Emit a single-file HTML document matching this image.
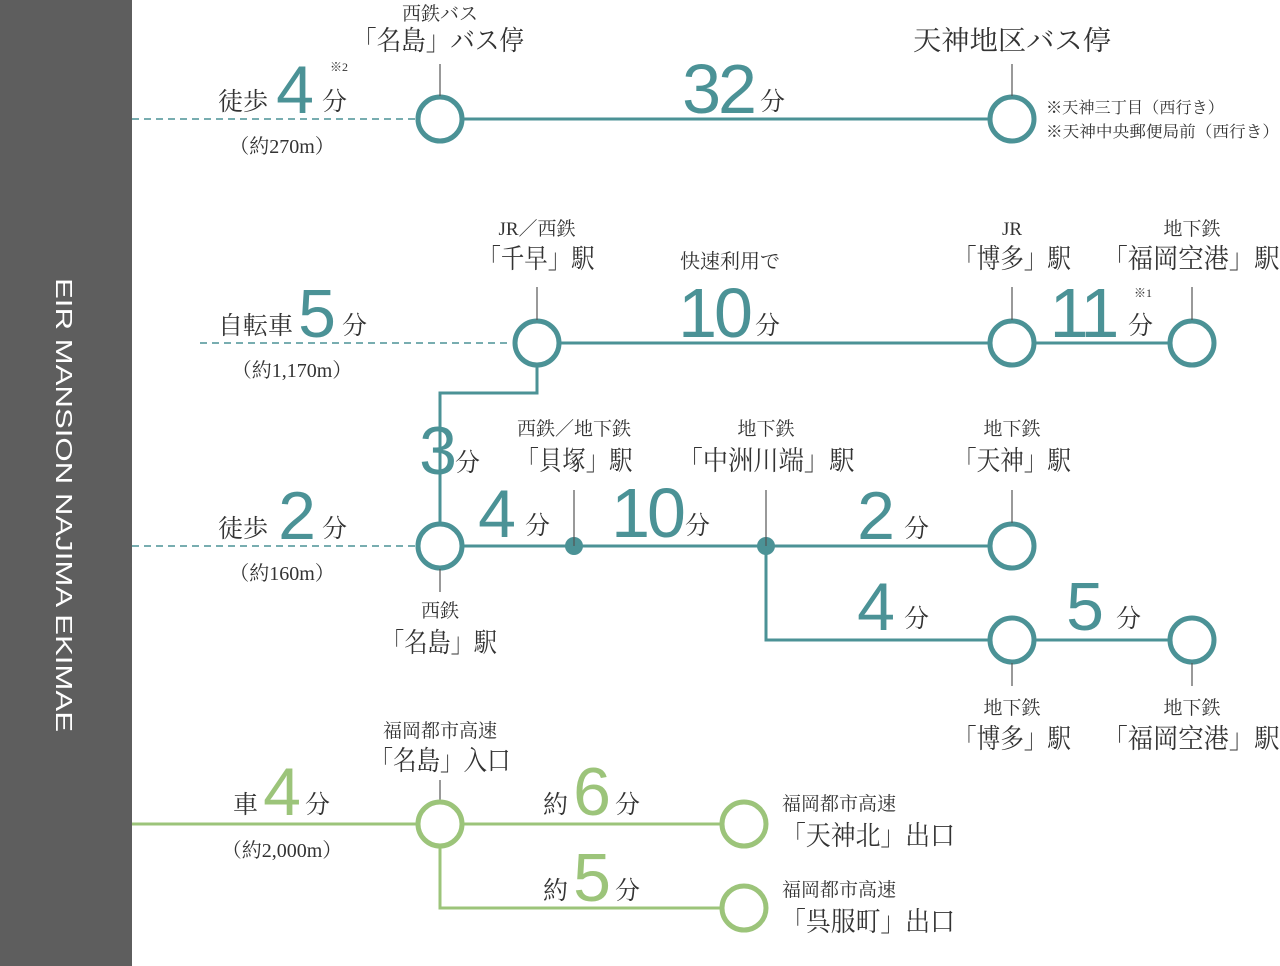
<!DOCTYPE html>
<html><head><meta charset="utf-8"><style>
html,body{margin:0;padding:0;background:#fff}
svg{display:block}
.j{font-family:"Liberation Serif","Noto Serif CJK SC",serif;fill:#333}
.n{font-family:"Liberation Sans",sans-serif;font-weight:normal}
.t{fill:#4b9296}.g{fill:#9cc47a}
</style></head><body>
<svg width="1280" height="966" viewBox="0 0 1280 966" xmlns="http://www.w3.org/2000/svg">
<rect x="0" y="0" width="132" height="966" fill="#5e5e5e"/>
<text transform="translate(56,278) rotate(90)" font-family="Liberation Sans,sans-serif" font-size="23" fill="#fff" textLength="454" lengthAdjust="spacingAndGlyphs">EIR MANSION NAJIMA EKIMAE</text>

<g stroke="#4b9296" stroke-width="3" fill="none">
<line x1="132" y1="119" x2="416" y2="119" stroke-width="1.5" stroke-dasharray="7,5"/>
<line x1="462" y1="119" x2="988" y2="119"/>
<line x1="200" y1="343" x2="512" y2="343" stroke-width="1.5" stroke-dasharray="7,5"/>
<line x1="559" y1="343" x2="988" y2="343"/>
<line x1="1034" y1="343" x2="1168" y2="343"/>
<polyline points="537,365 537,393 440,393 440,522"/>
<line x1="132" y1="546" x2="416" y2="546" stroke-width="1.5" stroke-dasharray="7,5"/>
<line x1="462" y1="546" x2="988" y2="546"/>
<polyline points="766,546 766,640 988,640"/>
<line x1="1034" y1="640" x2="1168" y2="640"/>
</g>
<g stroke="#4b9296" stroke-width="5" fill="#fff">
<circle cx="440" cy="119" r="22"/><circle cx="1012" cy="119" r="22"/>
<circle cx="537" cy="343" r="22"/><circle cx="1012" cy="343" r="22"/><circle cx="1192" cy="343" r="22"/>
<circle cx="440" cy="546" r="22"/><circle cx="1012" cy="546" r="22"/>
<circle cx="1012" cy="640" r="22"/><circle cx="1192" cy="640" r="22"/>
</g>
<circle cx="574" cy="546" r="9" fill="#4b9296"/><circle cx="766" cy="546" r="9" fill="#4b9296"/>
<g stroke="#555" stroke-width="1.2">
<line x1="440" y1="64" x2="440" y2="96"/><line x1="1012" y1="64" x2="1012" y2="96"/>
<line x1="537" y1="287" x2="537" y2="320"/><line x1="1012" y1="287" x2="1012" y2="320"/><line x1="1192" y1="287" x2="1192" y2="320"/>
<line x1="574" y1="490" x2="574" y2="546"/><line x1="766" y1="490" x2="766" y2="546"/><line x1="1012" y1="490" x2="1012" y2="523"/>
<line x1="440" y1="569" x2="440" y2="592"/>
<line x1="1012" y1="663" x2="1012" y2="686"/><line x1="1192" y1="663" x2="1192" y2="686"/>
<line x1="440" y1="780" x2="440" y2="801"/>
</g>
<g stroke="#9cc47a" stroke-width="3" fill="none">
<line x1="132" y1="824" x2="416" y2="824"/>
<line x1="462" y1="824" x2="720" y2="824"/>
<polyline points="440,846 440,908 720,908"/>
</g>
<g stroke="#9cc47a" stroke-width="5" fill="#fff">
<circle cx="440" cy="824" r="22"/><circle cx="744" cy="824" r="22"/><circle cx="744" cy="908" r="22"/>
</g>

<g class="j" text-anchor="middle">
<text x="440" y="20" font-size="19">西鉄バス</text>
<text x="438" y="50" font-size="27" textLength="172" lengthAdjust="spacingAndGlyphs">「名島」バス停</text>
<text x="1012" y="50" font-size="27" textLength="198" lengthAdjust="spacingAndGlyphs">天神地区バス停</text>
<text x="537" y="235" font-size="19">JR／西鉄</text>
<text x="536" y="268" font-size="27" textLength="117" lengthAdjust="spacingAndGlyphs">「千早」駅</text>
<text x="730" y="268" font-size="20">快速利用で</text>
<text x="1012" y="235" font-size="19">JR</text>
<text x="1012" y="268" font-size="27" textLength="118" lengthAdjust="spacingAndGlyphs">「博多」駅</text>
<text x="1192" y="235" font-size="19">地下鉄</text>
<text x="1191" y="268" font-size="27" textLength="177" lengthAdjust="spacingAndGlyphs">「福岡空港」駅</text>
<text x="574" y="435" font-size="19">西鉄／地下鉄</text>
<text x="574" y="470" font-size="27" textLength="117" lengthAdjust="spacingAndGlyphs">「貝塚」駅</text>
<text x="766" y="435" font-size="19">地下鉄</text>
<text x="766" y="470" font-size="27" textLength="177" lengthAdjust="spacingAndGlyphs">「中洲川端」駅</text>
<text x="1012" y="435" font-size="19">地下鉄</text>
<text x="1012" y="470" font-size="27" textLength="118" lengthAdjust="spacingAndGlyphs">「天神」駅</text>
<text x="440" y="617" font-size="19">西鉄</text>
<text x="439" y="652" font-size="27" textLength="116" lengthAdjust="spacingAndGlyphs">「名島」駅</text>
<text x="1012" y="714" font-size="19">地下鉄</text>
<text x="1012" y="748" font-size="27" textLength="118" lengthAdjust="spacingAndGlyphs">「博多」駅</text>
<text x="1192" y="714" font-size="19">地下鉄</text>
<text x="1191" y="748" font-size="27" textLength="177" lengthAdjust="spacingAndGlyphs">「福岡空港」駅</text>
<text x="440" y="737" font-size="19">福岡都市高速</text>
<text x="440" y="770" font-size="27" textLength="141" lengthAdjust="spacingAndGlyphs">「名島」入口</text>
<text x="282" y="153" font-size="20">（約270m）</text>
<text x="292" y="377" font-size="20">（約1,170m）</text>
<text x="282" y="580" font-size="20">（約160m）</text>
<text x="282" y="857" font-size="20">（約2,000m）</text>
</g>
<g class="j">
<text x="1046" y="113" font-size="16" textLength="178" lengthAdjust="spacingAndGlyphs">※天神三丁目（西行き）</text>
<text x="1046" y="137" font-size="16" textLength="233" lengthAdjust="spacingAndGlyphs">※天神中央郵便局前（西行き）</text>
<text x="782" y="810" font-size="19">福岡都市高速</text>
<text x="781" y="845" font-size="27" textLength="174" lengthAdjust="spacingAndGlyphs">「天神北」出口</text>
<text x="782" y="896" font-size="19">福岡都市高速</text>
<text x="781" y="931" font-size="27" textLength="174" lengthAdjust="spacingAndGlyphs">「呉服町」出口</text>
<text x="218" y="110" font-size="25">徒歩</text><text x="322" y="110" font-size="25">分</text>
<text x="330" y="71" font-size="12">※2</text>
<text x="760" y="110" font-size="25">分</text>
<text x="218" y="334" font-size="25">自転車</text><text x="342" y="334" font-size="25">分</text>
<text x="755" y="334" font-size="25">分</text>
<text x="1128" y="334" font-size="25">分</text><text x="1134" y="297" font-size="12">※1</text>
<text x="455" y="471" font-size="25">分</text>
<text x="218" y="537" font-size="25">徒歩</text><text x="322" y="537" font-size="25">分</text>
<text x="525" y="534" font-size="25">分</text>
<text x="685" y="534" font-size="25">分</text>
<text x="904" y="537" font-size="25">分</text>
<text x="904" y="627" font-size="25">分</text>
<text x="1116" y="627" font-size="25">分</text>
<text x="233" y="813" font-size="25">車</text><text x="305" y="813" font-size="25">分</text>
<text x="543" y="813" font-size="25">約</text><text x="615" y="813" font-size="25">分</text>
<text x="543" y="899" font-size="25">約</text><text x="615" y="899" font-size="25">分</text>
</g>
<g class="n t" text-anchor="middle">
<text x="295" y="113" font-size="68">4</text>
<text x="718" y="113" font-size="70" letter-spacing="-3">32</text>
<text x="317" y="337" font-size="68">5</text>
<text x="714" y="337" font-size="70" letter-spacing="-3">10</text>
<text x="1083" y="337" font-size="70" letter-spacing="-3">11</text>
<text x="438" y="474" font-size="68">3</text>
<text x="297" y="539" font-size="68">2</text>
<text x="497" y="537" font-size="68">4</text>
<text x="647" y="537" font-size="70" letter-spacing="-3">10</text>
<text x="876" y="539" font-size="68">2</text>
<text x="876" y="630" font-size="68">4</text>
<text x="1085" y="630" font-size="68">5</text>
</g>
<g class="n g" text-anchor="middle">
<text x="282" y="815" font-size="68">4</text>
<text x="592" y="815" font-size="68">6</text>
<text x="592" y="901" font-size="68">5</text>
</g>
</svg>
</body></html>
